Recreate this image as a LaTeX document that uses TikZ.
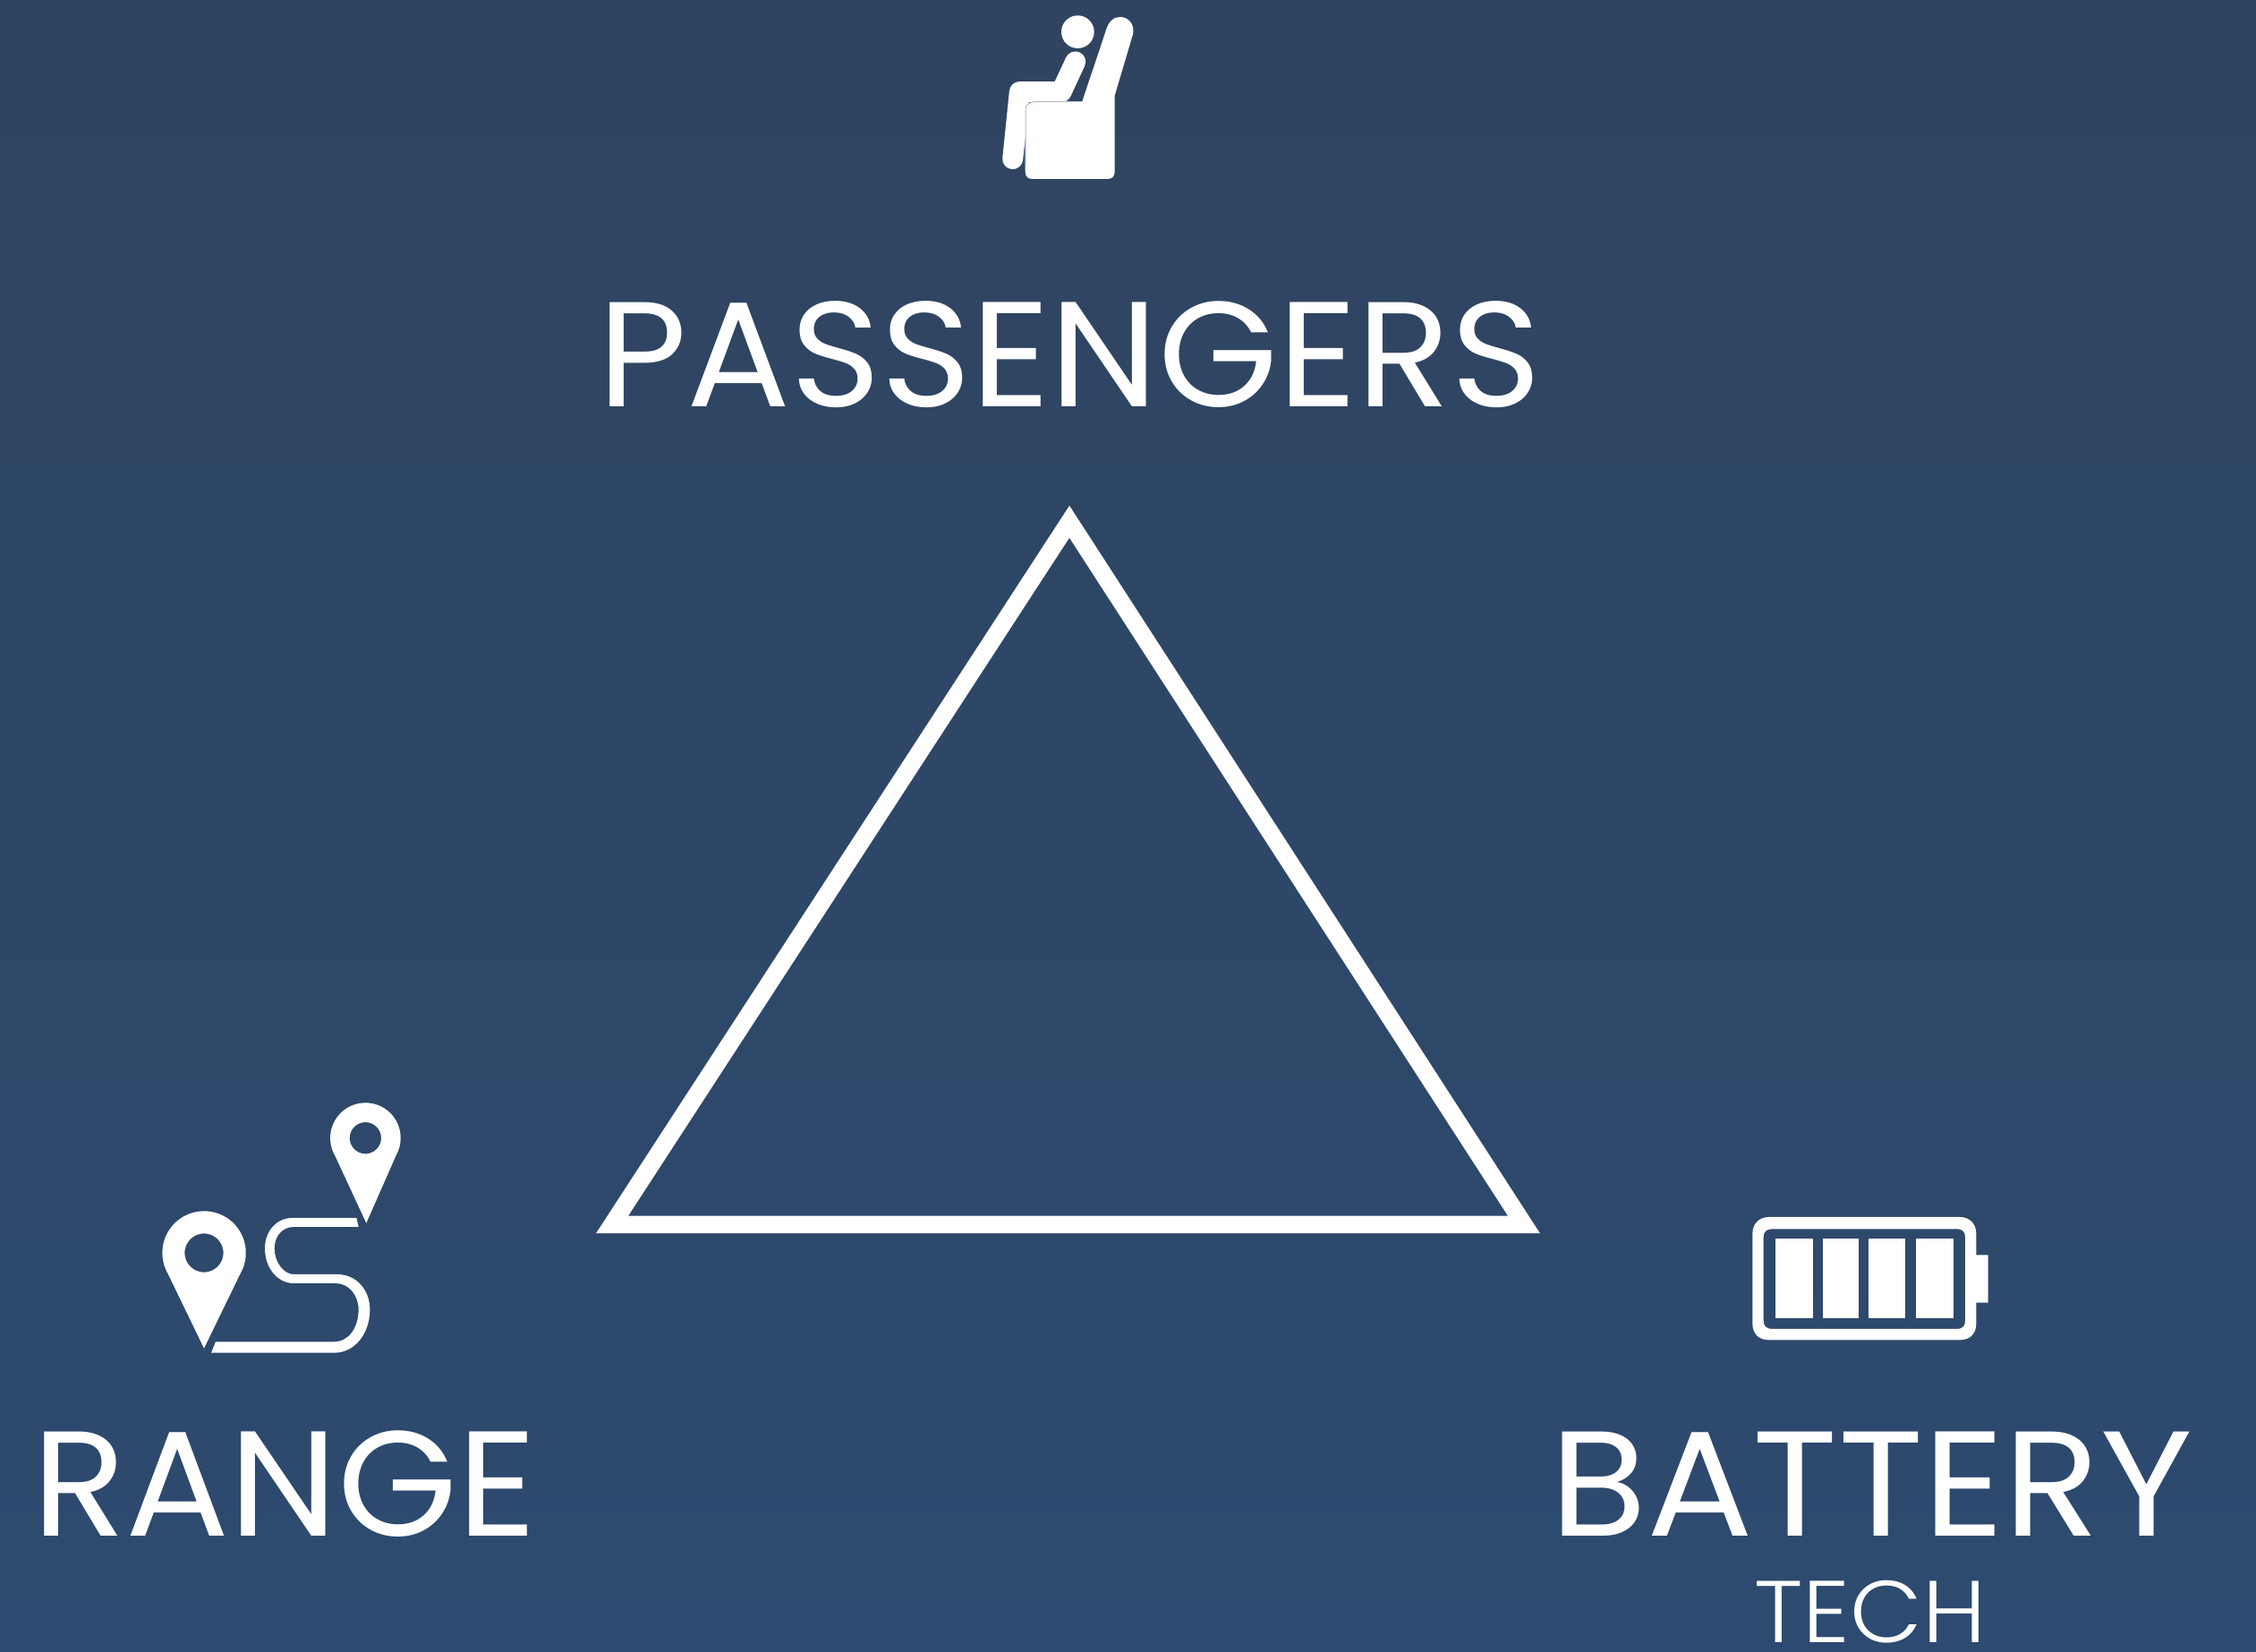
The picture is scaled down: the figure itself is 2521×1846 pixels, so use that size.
\documentclass[tikz,border=0pt]{standalone}
\usepackage{fontspec}
\setmainfont{Poppins}
\newfontfamily\lightfont{Poppins Light}
\definecolor{bgtop}{RGB}{47,68,96}
\definecolor{bgbot}{RGB}{45,74,112}
\definecolor{bgmid}{RGB}{46,71,104}
\tikzset{
  bigtext/.style={text=white,inner sep=0pt,anchor=base west,font=\fontsize{167}{190}\selectfont},
  smalltext/.style={text=white,inner sep=0pt,anchor=base west,font=\lightfont\fontsize{98}{110}\selectfont},
  iconfill/.style={fill=white,draw=none},
  triline/.style={draw=white,line width=19.5pt,miter limit=10,line join=miter}
}
\begin{document}
\begin{tikzpicture}[x=1pt,y=1pt]
\useasboundingbox (0,0) rectangle (2521,1846);
\shade[top color=bgtop,bottom color=bgbot] (0,0) rectangle (2521,1846);
\begin{scope}[cm={1,0,0,-1,(0,1846)}]
% triangle
\coordinate (apex) at (1195,583);
\coordinate (bl) at (684,1368.5);
\coordinate (br) at (1703,1368.5);
\draw[triline] (apex) -- (bl) -- (br) -- cycle;
% labels
\node[bigtext] (passengers) at (668,455) {\scalebox{1.03}[1]{PASSENGERS}};
\node[bigtext] (range) at (36,1717) {\scalebox{1.03}[1]{RANGE}};
\node[bigtext] (battery) at (1732,1717) {\scalebox{1.055}[1]{BATTERY}};
\node[smalltext] (tech) at (1960,1836) {\scalebox{1.07}[1]{TECH}};
% seat icon
\begin{scope}[cm={0.33333,0,0,0.33333,(1080,0)}]
\fill[white] (373,107) circle[radius=55];
\draw[white,line width=23pt,line cap=round,line join=round] (365,207) -- (318,308) -- (178,308) -- (155,533);
\fill[iconfill] (232,340) -- (350,340) -- (388,340) -- (465,110) .. controls (475,70) and (495,57) .. (515,57) .. controls (545,57) and (565,85) .. (558,115) -- (497,320) -- (497,575) .. controls (497,592) and (488,600) .. (472,600) -- (222,600) .. controls (206,600) and (197,592) .. (197,575) -- (197,365) .. controls (197,350) and (215,340) .. (232,340) -- cycle;
\draw[bgmid!35!white,line width=1pt] (350,341) -- (232,341) .. controls (215,341) and (198,350) .. (198,365) -- (198,555);
\end{scope}
% route icon
\begin{scope}[cm={0.33333,0,0,0.33333,(160,1210)}]
\fill[iconfill,even odd rule] (204,890) -- (83,640) arc[start angle=150,end angle=390,radius=140] -- cycle (204,570) circle[radius=65];
\fill[iconfill,even odd rule] (748,470) -- (643,244) arc[start angle=150,end angle=390,radius=118] -- cycle (745,185) circle[radius=53];
\fill[iconfill] (715,453) -- (500,453) .. controls (445,453) and (408,500) .. (408,555) .. controls (408,620) and (450,672) .. (505,672) -- (645,672) .. controls (690,672) and (722,712) .. (722,760) .. controls (722,820) and (690,868) .. (640,868) -- (243,868) -- (228,905) -- (640,905) .. controls (710,905) and (760,840) .. (760,760) .. controls (760,695) and (715,642) .. (650,642) -- (505,642) .. controls (470,642) and (440,600) .. (440,555) .. controls (440,515) and (465,483) .. (505,483) -- (722,483) -- cycle;
\end{scope}
% battery icon
\begin{scope}[cm={0.33333,0,0,0.33333,(1940,1340)}]
\fill[iconfill,even odd rule] (110,60) -- (750,60) .. controls (785,60) and (805,85) .. (805,115) -- (805,187) -- (845,187) -- (845,347) -- (805,347) -- (805,417) .. controls (805,450) and (785,472) .. (750,472) -- (110,472) .. controls (75,472) and (55,450) .. (55,417) -- (55,115) .. controls (55,85) and (75,60) .. (110,60) -- cycle
 (120,100) -- (742,100) .. controls (758,100) and (768,110) .. (768,126) -- (768,409) .. controls (768,425) and (758,435) .. (742,435) -- (120,435) .. controls (102,435) and (92,425) .. (92,409) -- (92,126) .. controls (92,110) and (102,100) .. (120,100) -- cycle;
\fill[iconfill] (132,132) rectangle (257,400);
\fill[iconfill] (290,132) rectangle (412,400);
\fill[iconfill] (445,132) rectangle (568,400);
\fill[iconfill] (604,132) rectangle (728,400);
\end{scope}
\end{scope}
\end{tikzpicture}
\end{document}
